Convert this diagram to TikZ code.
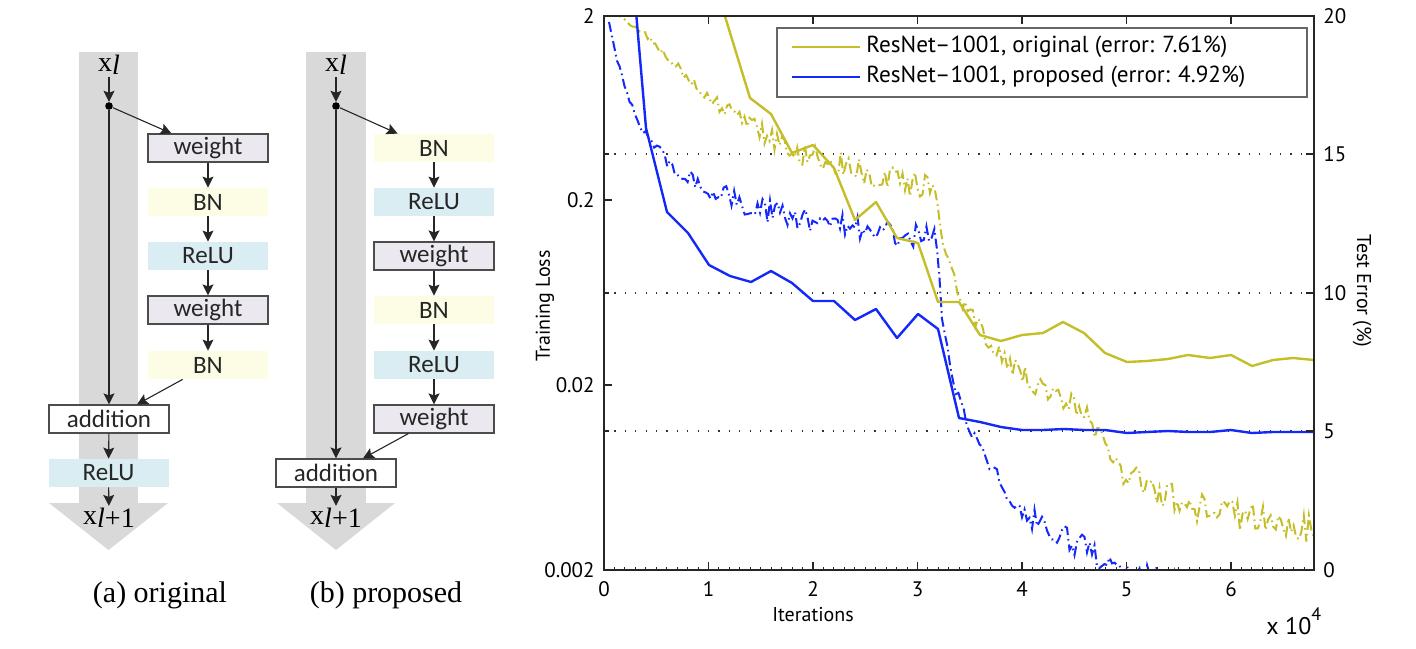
\documentclass[tikz,border=0pt]{standalone}
\usepackage{fontspec}
\usetikzlibrary{arrows.meta}
\newfontfamily\boxfont{Carlito}
\newfontfamily\plotfont{PT Sans}
\newfontfamily\capfont{Liberation Serif}
\definecolor{colgrey}{HTML}{D9D9D9}
\definecolor{wfill}{HTML}{EBE8F0}
\definecolor{bnfill}{HTML}{FDFDE5}
\definecolor{relufill}{HTML}{DAEDF2}
\definecolor{olivec}{RGB}{196,190,40}
\definecolor{bluec}{RGB}{20,40,250}
\tikzset{
  blk/.style={minimum width=60pt,minimum height=14pt,inner sep=0pt,
    font=\boxfont\fontsize{12.5}{14}\selectfont,text=black!85},
  weightbox/.style={blk,fill=wfill,draw=black!70,line width=0.6pt},
  bnbox/.style={blk,fill=bnfill},
  relubox/.style={blk,fill=relufill},
  addbox/.style={blk,fill=white,draw=black!70,line width=0.6pt},
  splitdot/.style={circle,fill=black,inner sep=0pt,minimum size=3.8pt},
  flow/.style={-{Stealth[length=5.5pt,width=5.5pt,inset=1pt]},line width=0.55pt,draw=black!85},
  xlab/.style={font=\capfont\fontsize{14}{16}\selectfont,inner sep=1pt},
  capt/.style={font=\capfont\fontsize{15}{17}\selectfont},
  ticklab/.style={font=\plotfont\fontsize{10.5}{12}\selectfont,inner sep=1pt},
  axlab/.style={font=\plotfont\fontsize{10}{12}\selectfont},
  leglab/.style={font=\plotfont\fontsize{11.6}{14}\selectfont,anchor=west,inner sep=0pt},
  gridline/.style={black!80,line width=0.6pt,dash pattern=on 0.6pt off 4.6pt},
  axisline/.style={line width=0.8pt,black!85},
  origtest/.style={olivec,line width=1.2pt,line join=round},
  proptest/.style={bluec,line width=1.2pt,line join=round},
  origloss/.style={olivec,line width=1pt,dash pattern=on 5pt off 2pt on 0.8pt off 2pt},
  proploss/.style={bluec,line width=1pt,dash pattern=on 5pt off 2pt on 0.8pt off 2pt}
}
\begin{document}
\begin{tikzpicture}[x=0.5pt,y=-0.5pt]
\useasboundingbox (0,0) rectangle (1416,648);

% (a) original unit
\fill[colgrey] (79,52) rectangle (138,503);
\fill[colgrey] (49,503) -- (168,503) -- (108.5,550) -- cycle;
\node[xlab] (xa) at (109,65) {x\raisebox{-1.5pt}{\itshape l}};
\node[splitdot] (da) at (109,106) {};
\node[weightbox] (wa1) at (208,148) {weight};
\node[bnbox] (ba1) at (208,202) {BN};
\node[relubox] (ra1) at (208,256) {ReLU};
\node[weightbox] (wa2) at (208,310) {weight};
\node[bnbox] (ba2) at (208,365) {BN};
\node[addbox] (aa) at (109,419) {addition};
\node[relubox] (ra2) at (108.5,473) {ReLU};
\node[xlab] (xa2) at (109,518) {x\raisebox{-1.5pt}{{\itshape l}+1}};
\draw[flow] (xa) -- (da);
\draw[flow] (da) -- (aa);
\draw[flow] (da) -- ([xshift=12pt]wa1.north west);
\draw[flow] (wa1) -- (ba1);
\draw[flow] (ba1) -- (ra1);
\draw[flow] (ra1) -- (wa2);
\draw[flow] (wa2) -- (ba2);
\draw[flow] ([xshift=17.5pt]ba2.south west) -- ([xshift=14pt]aa.north);
\draw[flow] (aa) -- (ra2);
\draw[flow] (ra2) -- (xa2);
\node[capt] (capa) at (160,595) {(a) original};

% (b) proposed unit
\fill[colgrey] (306,52) rectangle (366,503);
\fill[colgrey] (277,503) -- (395,503) -- (336,550) -- cycle;
\node[xlab] (xb) at (336,65) {x\raisebox{-1.5pt}{\itshape l}};
\node[splitdot] (db) at (336,106) {};
\node[bnbox] (bb1) at (434,148) {BN};
\node[relubox] (rb1) at (434,202) {ReLU};
\node[weightbox] (wb1) at (434,256) {weight};
\node[bnbox] (bb2) at (434,310) {BN};
\node[relubox] (rb2) at (434,365) {ReLU};
\node[weightbox] (wb2) at (434,419) {weight};
\node[addbox] (ab) at (336,473) {addition};
\node[xlab] (xb2) at (336,518) {x\raisebox{-1.5pt}{{\itshape l}+1}};
\draw[flow] (xb) -- (db);
\draw[flow] (db) -- (ab);
\draw[flow] (db) -- ([xshift=12pt]bb1.north west);
\draw[flow] (bb1) -- (rb1);
\draw[flow] (rb1) -- (wb1);
\draw[flow] (wb1) -- (bb2);
\draw[flow] (bb2) -- (rb2);
\draw[flow] (rb2) -- (wb2);
\draw[flow] ([xshift=17.5pt]wb2.south west) -- ([xshift=13.5pt]ab.north);
\draw[flow] (ab) -- (xb2);
\node[capt] (capb) at (386,595) {(b) proposed};

% training curves
\foreach \y in {154,293,431} \draw[gridline] (604,\y) -- (1314,\y);
\pgfmathsetseed{11}
\begin{scope}
\clip (604,16) rectangle (1314,570);
\draw[origloss] (612,12) \foreach \xa/\ya/\xb/\yb/\am
  [evaluate=\xa as \nn using {max(1,int((\xb-\xa)/2.5))}] in
  {612/12/640/30/2, 640/30/673/63/4, 673/63/707/97/6, 707/97/747/123/8,
   747/123/787/150/10, 787/150/833/163/12, 833/163/890/180/13, 890/180/935/188/13,
   935/188/943/243/3, 943/243/960/297/5, 960/297/983/333/8, 983/333/1010/367/10,
   1010/367/1053/393/14, 1053/393/1100/428/14, 1100/428/1113/467/6, 1113/467/1157/493/14,
   1157/493/1217/513/15, 1217/513/1314/528/15}
  { \foreach \k in {1,...,\nn} { -- ({\xa+\k/\nn*(\xb-\xa)},{\ya+\k/\nn*(\yb-\ya)+\am*rand}) } };
\draw[proploss] (609,22) \foreach \xa/\ya/\xb/\yb/\am
  [evaluate=\xa as \nn using {max(1,int((\xb-\xa)/2.5))}] in
  {609/22/617/60/1, 617/60/627/93/2, 627/93/640/127/3, 640/127/657/150/5,
   657/150/680/172/8, 680/172/713/192/10, 713/192/750/206/11, 750/206/800/219/12,
   800/219/850/228/12, 850/228/900/235/12, 900/235/937/238/12, 937/238/942/320/2,
   942/320/953/383/5, 953/383/972/437/7, 972/437/997/477/10, 997/477/1027/517/12,
   1027/517/1067/540/13, 1067/540/1107/560/13, 1107/560/1127/572/8, 1127/572/1250/590/10}
  { \foreach \k in {1,...,\nn} { -- ({\xa+\k/\nn*(\xb-\xa)},{\ya+\k/\nn*(\yb-\ya)+\am*rand}) } };
\draw[origtest] (720,0) -- (750,98) -- (771,114) -- (792,153) -- (813,145) -- (834,168)
  -- (855,220) -- (876,202) -- (897,238) -- (918,243) -- (938,302) -- (959,302)
  -- (980,335) -- (1001,341) -- (1022,335) -- (1043,333) -- (1063,322) -- (1084,333)
  -- (1105,353) -- (1127,362) -- (1147,361) -- (1168,359) -- (1188,355) -- (1210,358)
  -- (1231,355) -- (1252,366) -- (1273,360) -- (1293,358) -- (1314,360);
\draw[proptest] (635,0) -- (646,128) -- (667,212) -- (688,233) -- (709,265) -- (730,276)
  -- (751,282) -- (771,271) -- (792,283) -- (813,301) -- (834,301) -- (855,320)
  -- (876,309) -- (897,338) -- (918,314) -- (938,329) -- (959,418) -- (980,422)
  -- (1001,427) -- (1022,430) -- (1043,430) -- (1064,429) -- (1084,430) -- (1105,430)
  -- (1127,433) -- (1147,432) -- (1168,431) -- (1189,432) -- (1210,432) -- (1231,430)
  -- (1252,433) -- (1273,432) -- (1293,432) -- (1314,432);
\end{scope}

% axes
\draw[axisline] (604,16) rectangle (1314,570);
\foreach \i in {1,...,6} {
  \draw[axisline] ({604+104.5*\i},570) -- ++(0,-8);
  \draw[axisline] ({604+104.5*\i},16) -- ++(0,8);
}
\foreach \i in {1,...,67} \draw[black!85,line width=0.5pt] ({604+10.45*\i},570) -- ++(0,-3);
\foreach \y in {200,385} \draw[axisline] (604,\y) -- ++(8,0);
\foreach \y in {154,293,431} {
  \draw[axisline] (604,\y) -- ++(5,0);
  \draw[axisline] (1314,\y) -- ++(-8,0);
}
\foreach \v/\y [count=\k] in {2/16,0.2/200,0.02/385,0.002/570}
  \node[ticklab,anchor=east] (lt\k) at (597,\y) {\v};
\foreach \v/\y [count=\k] in {20/16,15/154,10/293,5/431,0/570}
  \node[ticklab,anchor=west] (rt\k) at (1321,\y) {\v};
\foreach \i in {0,...,6}
  \node[ticklab,anchor=north] (bt\i) at ({604+104.5*\i},579) {\i};
\node[axlab,rotate=90] (ylab) at (545,306) {Training Loss};
\node[axlab,rotate=-90] (yrlab) at (1362,291) {Test Error (\%)};
\node[axlab] (xlab) at (813,615) {Iterations};
\node[axlab,anchor=base west,inner sep=0pt,font=\plotfont\fontsize{12}{14}\selectfont]
  (xscale) at (1266,634) {x 10\raisebox{7pt}{\fontsize{9}{10}\selectfont 4}};

% legend
\node[draw=black!60,fill=white,line width=0.6pt,minimum width=265pt,
  minimum height=34.5pt,inner sep=0pt] (leg) at (1042,62.5) {};
\coordinate (lga) at (792,47);
\coordinate (lgb) at (792,77);
\draw[origtest] (lga) -- ++(68,0);
\draw[proptest] (lgb) -- ++(68,0);
\node[leglab] (lta) at (866,47) {ResNet–1001, original (error: 7.61\%)};
\node[leglab] (ltb) at (866,77) {ResNet–1001, proposed (error: 4.92\%)};
\end{tikzpicture}
\end{document}
